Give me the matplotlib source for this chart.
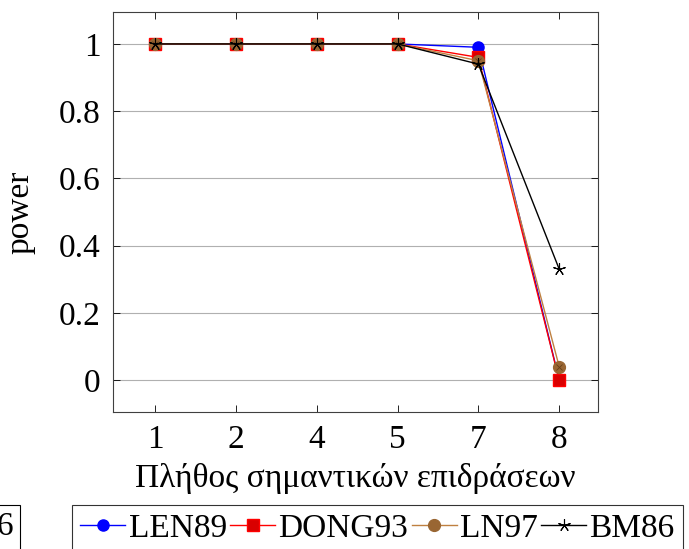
import matplotlib
matplotlib.use("Agg")
import matplotlib.pyplot as plt
from matplotlib.patches import Rectangle

plt.rcParams['font.family'] = ['Liberation Serif', 'DejaVu Serif']

categories = ["1", "2", "4", "5", "7", "8"]
len89 = [1.0, 1.0, 1.0, 1.0, 0.99, 0.0]
dong93 = [1.0, 1.0, 1.0, 1.0, 0.96, 0.0]
ln97 = [1.0, 1.0, 1.0, 1.0, 0.95, 0.04]
bm86 = [1.0, 1.0, 1.0, 1.0, 0.94, 0.33]
yticks = [0, 0.2, 0.4, 0.6, 0.8, 1]
ytick_labels = ["0", "0.2", "0.4", "0.6", "0.8", "1"]

FS = 24
fig = plt.figure(figsize=(6.89, 5.49), dpi=100)
ax = fig.add_axes([113/689, 1-412/549, (598-113)/689, (412-12)/549])

x = list(range(1, len(categories)+1))
brown = (0.75, 0.5, 0.25)
ax.plot(x, len89, color='blue', marker='o', markersize=8, lw=1, label='LEN89', zorder=3)
ax.plot(x, dong93, color='red', marker='s', markersize=8, markerfacecolor=(0.85, 0, 0), lw=1, label='DONG93', zorder=4)
ax.plot(x, ln97, color=brown, marker='o', markersize=8.5, markerfacecolor=(0.6, 0.4, 0.2), markeredgecolor=(0.6, 0.4, 0.2), lw=1, label='LN97', zorder=5)
ax.plot(x, ln97, color='none', marker='x', markersize=5, markeredgecolor=(0.4, 0.25, 0.1), markeredgewidth=0.6, lw=0, zorder=5.5)
ax.plot(x, bm86, color='black', marker=(5, 2, 0), markersize=9, markeredgewidth=0.8, lw=1, label='BM86', zorder=6)

ax.set_xlim(0.48, 6.48)
ax.set_ylim(-0.095, 1.095)
ax.set_xticks(x)
ax.set_xticklabels(categories)
ax.set_yticks(yticks)
ax.set_yticklabels(ytick_labels)
ax.tick_params(direction='in', top=True, right=True, labelsize=FS, length=5, width=0.6, pad=9)
ax.yaxis.grid(True, color='#b0b0b0', lw=0.8)
ax.set_axisbelow(True)
for s in ax.spines.values():
    s.set_linewidth(0.8)
    s.set_color('#404040')

ax.set_xlabel('Πλήθος σημαντικών επιδράσεων', fontsize=FS, labelpad=6)
ax.set_ylabel('power', fontsize=FS, labelpad=17)

h, l = ax.get_legend_handles_labels()
leg = fig.legend(h, l, loc='upper left', bbox_to_anchor=(72/689, 1-505/549), ncol=4,
                 fontsize=FS, frameon=True, fancybox=False, handlelength=1.35,
                 columnspacing=0.1, handletextpad=0.1, borderpad=0.25, borderaxespad=0)
leg.get_frame().set_edgecolor('black')
leg.get_frame().set_linewidth(0.8)

fig.patches.append(Rectangle((-0.2, 1-580/549), 0.2 + 20/689, 75/549, transform=fig.transFigure,
                             fill=False, edgecolor='black', lw=0.8))
fig.text(13/689, 1-527/549, '6', fontsize=FS, ha='right', va='center')

fig.savefig('out.png', dpi=100)
